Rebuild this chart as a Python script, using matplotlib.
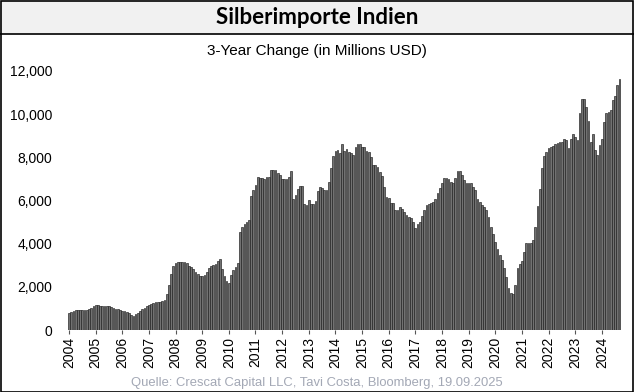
import matplotlib
matplotlib.use("Agg")
import matplotlib.pyplot as plt
import numpy as np

title = "Silberimporte Indien"
subtitle = "3-Year Change (in Millions USD)"
source = "Quelle: Crescat Capital LLC, Tavi Costa, Bloomberg, 19.09.2025"

years = list(range(2004, 2025))
y_ticks = [0, 2000, 4000, 6000, 8000, 10000, 12000]

v2004 = [770, 820, 870, 910, 930, 930, 930, 930, 940, 960, 1020, 1100]
v2005 = [1150, 1140, 1120, 1110, 1110, 1100, 1090, 1050, 1010, 980, 960, 940]
v2006 = [900, 880, 850, 780, 700, 660, 720, 800, 880, 960, 1030, 1100]
v2007 = [1150, 1200, 1250, 1280, 1300, 1320, 1340, 1370, 1650, 2100, 2580, 2980]
v2008 = [3100, 3130, 3140, 3140, 3130, 3100, 2980, 2900, 2820, 2700, 2580, 2500]
v2009 = [2480, 2560, 2700, 2870, 2980, 3030, 3080, 3180, 3290, 2830, 2490, 2250]
v2010 = [2190, 2570, 2800, 2920, 3100, 4550, 4780, 4890, 5010, 5080, 6190, 6470]
v2011 = [6710, 7070, 7020, 7020, 7000, 7100, 7100, 7400, 7400, 7400, 7270, 7200]
v2012 = [6980, 6980, 6980, 7070, 7380, 6090, 6250, 6520, 6650, 6660, 5840, 5800]
v2013 = [6020, 5840, 5840, 6000, 6420, 6640, 6560, 6490, 6500, 6870, 7490, 8060]
v2014 = [8300, 8330, 8200, 8610, 8300, 8400, 8230, 8200, 8120, 8500, 8610, 8610]
v2015 = [8500, 8500, 8300, 8230, 8000, 7650, 7640, 7530, 7300, 7130, 6640, 6170]
v2016 = [6100, 5900, 5900, 5560, 5560, 5720, 5600, 5470, 5350, 5250, 5210, 5020]
v2017 = [4710, 4900, 5020, 5280, 5560, 5810, 5860, 5900, 5950, 6070, 6360, 6590]
v2018 = [6820, 7020, 7020, 6980, 6870, 6790, 7020, 7380, 7380, 7180, 6950, 6820]
v2019 = [6790, 6820, 6640, 6490, 6090, 5950, 5780, 5720, 5560, 5250, 4790, 4450]
v2020 = [4100, 3750, 3490, 3260, 2860, 2450, 1940, 1730, 1670, 2090, 2860, 3060]
v2021 = [3210, 3630, 4020, 4020, 4040, 4150, 4790, 5740, 6520, 7490, 8060, 8270]
v2022 = [8410, 8490, 8520, 8640, 8670, 8690, 8720, 8850, 8820, 8410, 8830, 9070]
v2023 = [8920, 8800, 10040, 10720, 10720, 10340, 9670, 8720, 9070, 8330, 8100, 8580]
v2024 = [8840, 9640, 10060, 10110, 10180, 10660, 10860, 11330, 11610]

values = (v2004 + v2005 + v2006 + v2007 + v2008 + v2009 + v2010 + v2011 + v2012
          + v2013 + v2014 + v2015 + v2016 + v2017 + v2018 + v2019 + v2020
          + v2021 + v2022 + v2023 + v2024)

W, H = 634, 392
fig = plt.figure(figsize=(W / 100, H / 100), dpi=100)
fig.patch.set_facecolor("white")

# title band
band = plt.Rectangle((0, 1 - 34 / H), 1, 34 / H, transform=fig.transFigure,
                     facecolor="#f1f1f1", edgecolor="none", zorder=0)
fig.patches.append(band)
fig.add_artist(plt.Line2D([0, 1], [1 - 34 / H, 1 - 34 / H], transform=fig.transFigure,
                          color="black", lw=1.2))
fig.add_artist(plt.Rectangle((0.5 / W, 0.5 / H), 1 - 1.5 / W, 1 - 1.5 / H,
                             transform=fig.transFigure, facecolor="none",
                             edgecolor="black", lw=1.2))

fig.text(0.5, 1 - 18 / H, title, ha="center", va="center", fontsize=16,
         fontweight="bold", family=["Lato", "DejaVu Sans"])
fig.text(0.5, 1 - 51 / H, subtitle, ha="center", va="center", fontsize=11,
         family=["Liberation Sans", "DejaVu Sans"])
fig.text(0.5, 1 - 383 / H, source, ha="center", va="center", fontsize=9.4,
         color="#a3a8b5", family=["Liberation Sans", "DejaVu Sans"])

L, R, T, B = 66, 625, 71, 330
ax = fig.add_axes([L / W, 1 - B / H, (R - L) / W, (B - T) / H])
ax.set_facecolor("none")
x = np.arange(len(values))
ax.bar(x, values, width=0.78, color="#727272", edgecolor="#1e1e1e", linewidth=0.45)

step = 2.22
ax.set_xlim((L - 69) / step, (R - 69) / step)
ax.set_ylim(0, 12000)
ax.set_xticks([12 * i for i in range(len(years))])
ax.set_xticklabels([str(y) for y in years], rotation=90, fontsize=10,
                   family=["Liberation Sans", "DejaVu Sans"])
ax.set_yticks(y_ticks)
ax.set_yticklabels([f"{v:,}" for v in y_ticks], fontsize=10,
                   family=["Liberation Sans", "DejaVu Sans"])
ax.tick_params(axis="y", length=0, pad=10)
ax.tick_params(axis="x", length=3, width=0.8, color="#555555", pad=2)
for s in ax.spines.values():
    s.set_visible(False)

fig.savefig("out.png", dpi=100)
